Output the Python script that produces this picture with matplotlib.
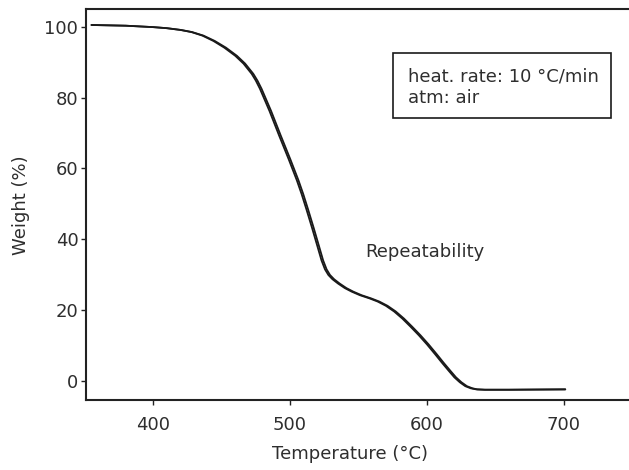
import matplotlib.pyplot as plt
from matplotlib.patches import Rectangle

# TGA runs, temperature in degC and remaining weight in %
run1_temp = [355, 380, 400, 410, 420, 428, 436, 444, 452, 460, 466, 472, 475,
             478, 485, 492, 499, 505, 508.5, 512, 516, 520, 523, 525.5, 528,
             531, 535, 540, 545, 551, 558, 564, 570, 576, 582, 588, 594, 600,
             606, 611, 616, 620, 624, 628, 632, 636, 642, 660, 680, 701]
run2_temp = [355, 380, 400, 410, 420.3, 428.5, 436.8, 445, 453.2, 461.2, 467.2,
             473.2, 476.2, 479.2, 486.2, 493.2, 500.2, 506.2, 509.7, 513.2,
             517.2, 521.2, 524.2, 526.7, 529.2, 532.2, 536.2, 541.2, 546.2,
             552.2, 559.2, 565.2, 571.2, 577.2, 583.2, 589.2, 595.2, 601.2,
             607.2, 612.2, 617.2, 621.2, 625.2, 629.2, 633.2, 636.8, 642.5,
             660, 680, 701]
run_weight = [100.5, 100.3, 99.9, 99.6, 99.1, 98.5, 97.5, 96.0, 94.1, 91.8,
              89.6, 86.7, 84.8, 82.5, 76.2, 69.3, 62.6, 56.6, 52.7, 48.4, 43.3,
              38.0, 34.0, 31.5, 29.9, 28.7, 27.5, 26.2, 25.2, 24.2, 23.3, 22.4,
              21.2, 19.6, 17.6, 15.3, 12.9, 10.3, 7.5, 5.1, 2.8, 1.0, -0.4,
              -1.5, -2.1, -2.4, -2.5, -2.5, -2.45, -2.4]

x_ticks = [400, 500, 600, 700]
y_ticks = [0, 20, 40, 60, 80, 100]

txt = "#2e2e2e"
plt.rcParams["font.family"] = ["DejaVu Sans"]
plt.rcParams["font.size"] = 13

fig = plt.figure(figsize=(6.29, 4.70), dpi=100)
ax = fig.add_axes([86 / 629, 70 / 470, 545 / 629, 391.3 / 470])

ax.plot(run1_temp, run_weight, color="#1a1a1a", lw=1.3, solid_capstyle="round")
ax.plot(run2_temp, run_weight, color="#1a1a1a", lw=1.3, solid_capstyle="round")

ax.set_xlim(351, 749)
ax.set_ylim(-5.4, 105.1)
ax.set_xticks(x_ticks)
ax.set_yticks(y_ticks)
ax.tick_params(direction="out", length=3.5, width=1.0, color="#222222",
               labelcolor=txt)
ax.tick_params(axis="x", pad=8)
ax.tick_params(axis="y", pad=2)
for sp in ax.spines.values():
    sp.set_linewidth(1.5)
    sp.set_color("#222222")

fig.text(350 / 629, 1 - 454 / 470, "Temperature (°C)", ha="center",
         va="center", color=txt)
fig.text(21 / 629, 1 - 205 / 470, "Weight (%)", ha="center", va="center",
         rotation=90, color=txt)

ax.text(554.7, 36.4, "Repeatability", ha="left", va="center", color=txt)

# conditions box
ax.add_patch(Rectangle((0.563, 0.7207), 0.40, 0.166, transform=ax.transAxes,
                       fill=False, ec="#1a1a1a", lw=1.2))
ax.text(0.591, 0.826, "heat. rate: 10 °C/min", transform=ax.transAxes,
        ha="left", va="center", color=txt)
ax.text(0.591, 0.772, "atm: air", transform=ax.transAxes, ha="left",
        va="center", color=txt)

fig.savefig("out.png", dpi=100)
